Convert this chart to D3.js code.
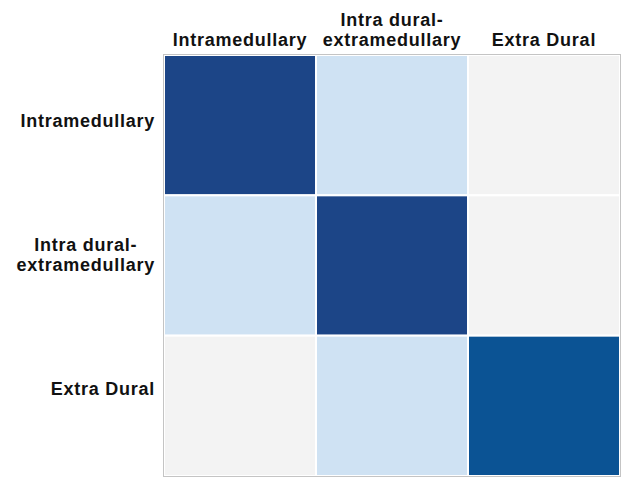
<!DOCTYPE html>
<html>
<head>
<meta charset="utf-8">
<script src="https://cdn.jsdelivr.net/npm/d3@7/dist/d3.min.js"></script>
<style>
  html, body { margin: 0; padding: 0; background: #ffffff; }
  svg { display: block; }
  text { font-family: "Liberation Sans", Arial, sans-serif; font-weight: bold; fill: #111; }
</style>
</head>
<body>
<svg id="chart" width="623" height="478"></svg>
<script>
// Tumour location categories (rows = actual, columns = predicted)
const categories = ["Intramedullary", "Intra dural-extramedullary", "Extra Dural"];
// Label text split into lines
const labelLines = [["Intramedullary"], ["Intra dural-", "extramedullary"], ["Extra Dural"]];
// Agreement level per cell, row by row
const rowIntramedullary = [3, 1, 0];
const rowIntraDural = [1, 3, 0];
const rowExtraDural = [0, 1, 2];
const levels = [0, 1, 2, 3];
const levelColors = ["#f3f3f3", "#cfe2f3", "#0b5394", "#1c4587"];

const matrix = [rowIntramedullary, rowIntraDural, rowExtraDural];
const cells = [];
matrix.forEach((row, i) => row.forEach((v, j) => cells.push({ row: categories[i], col: categories[j], value: v })));

const svg = d3.select("#chart");

const x = d3.scaleBand().domain(categories).range([164, 620]);
const y = d3.scaleBand().domain(categories).range([55, 476]);
const yLabel = d3.scaleBand().domain(categories).range([54, 456]);
const color = d3.scaleOrdinal().domain(levels).range(levelColors);

// Heat cells
svg.append("g")
  .selectAll("rect")
  .data(cells)
  .join("rect")
  .attr("x", d => x(d.col))
  .attr("y", d => y(d.row))
  .attr("width", x.bandwidth())
  .attr("height", y.bandwidth())
  .attr("fill", d => color(d.value))
  .attr("stroke", "#ffffff")
  .attr("stroke-width", 2);

// Outer frame
svg.append("rect")
  .attr("x", x.range()[0] - 0.5)
  .attr("y", y.range()[0] - 0.5)
  .attr("width", x.range()[1] - x.range()[0] + 1)
  .attr("height", y.range()[1] - y.range()[0] + 1)
  .attr("fill", "none")
  .attr("stroke", "#c4c4c4")
  .attr("stroke-width", 1);

const fontSize = 18;
const spacing = 0.75;
const lineGap = 20;

// Column headers, bottom-aligned above the grid
const colLabels = svg.append("g");
categories.forEach((c, i) => {
  const lines = labelLines[i];
  const t = colLabels.append("text")
    .attr("text-anchor", "middle")
    .attr("font-size", fontSize)
    .attr("letter-spacing", spacing);
  lines.forEach((ln, k) => {
    t.append("tspan")
      .attr("x", x(c) + x.bandwidth() / 2)
      .attr("y", 45.5 - (lines.length - 1 - k) * lineGap)
      .text(ln);
  });
});

// Row headers, block right-aligned against the grid, lines centred
const rowLabels = svg.append("g");
categories.forEach((c, i) => {
  const lines = labelLines[i];
  const t = rowLabels.append("text")
    .attr("text-anchor", "middle")
    .attr("font-size", fontSize)
    .attr("letter-spacing", spacing);
  const spans = lines.map((ln, k) => t.append("tspan").text(ln));
  let maxW = 0;
  spans.forEach(s => { maxW = Math.max(maxW, s.node().getComputedTextLength()); });
  const cx = 155 - maxW / 2;
  const cy = yLabel(c) + yLabel.bandwidth() / 2;
  spans.forEach((s, k) => {
    s.attr("x", cx)
     .attr("y", cy + 6 + (k - (lines.length - 1) / 2) * lineGap);
  });
});
</script>
</body>
</html>
